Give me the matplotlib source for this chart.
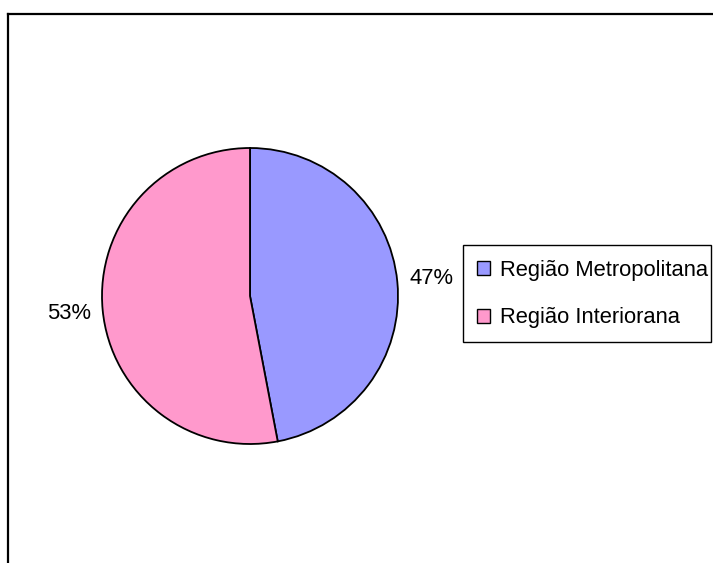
import matplotlib
matplotlib.use("Agg")
import matplotlib.pyplot as plt
from matplotlib.patches import Patch, Rectangle
from matplotlib.lines import Line2D

plt.rcParams['font.family'] = ['Liberation Sans', 'DejaVu Sans']

categories = ["Região Metropolitana", "Região Interiorana"]
shares = [47, 53]
colors = ["#9999FF", "#FF99CC"]

W, H = 713, 563
FS = 15.8
fig = plt.figure(figsize=(W / 100, H / 100), dpi=100)
fig.patch.set_facecolor("white")

# chart frame: top and left border lines
fig.add_artist(Line2D([8 / W, 712 / W], [1 - 14 / H, 1 - 14 / H], color="black", lw=1.6,
                      transform=fig.transFigure))
fig.add_artist(Line2D([8 / W, 8 / W], [1 - 14 / H, 0], color="black", lw=1.6,
                      transform=fig.transFigure))

# pie area: centre (250, 296), radius 148 px
cx, cy, r = 250, 296, 148
ax = fig.add_axes([(cx - r) / W, 1 - (cy + r) / H, 2 * r / W, 2 * r / H])

wedges, texts, autotexts = ax.pie(
    shares, colors=colors, startangle=90, counterclock=False, radius=1,
    autopct=lambda p: f"{p:.0f}%", pctdistance=1.23,
    wedgeprops=dict(edgecolor="black", linewidth=1.3),
    textprops=dict(fontsize=FS, color="black"))
ax.set_xlim(-1, 1)
ax.set_ylim(-1, 1)
ax.set_aspect("equal")
ax.axis("off")
for w in wedges:
    w.set_clip_on(False)
for t in autotexts:
    t.set_clip_on(False)

# legend box
fig.add_artist(Rectangle((463 / W, 1 - 342 / H), (711 - 463) / W, (342 - 245) / H,
                         transform=fig.transFigure, facecolor="white",
                         edgecolor="black", linewidth=1.0))
handles = [Patch(facecolor=c, edgecolor="black", linewidth=1.0) for c in colors]
leg = fig.legend(handles, categories, loc="upper left",
                 bbox_to_anchor=(477 / W, 1 - 260 / H), borderaxespad=0,
                 fontsize=FS, frameon=False,
                 handlelength=0.6, handleheight=0.6, handletextpad=0.45,
                 labelspacing=1.2, borderpad=0)

fig.savefig("out.png", dpi=100, facecolor="white")
